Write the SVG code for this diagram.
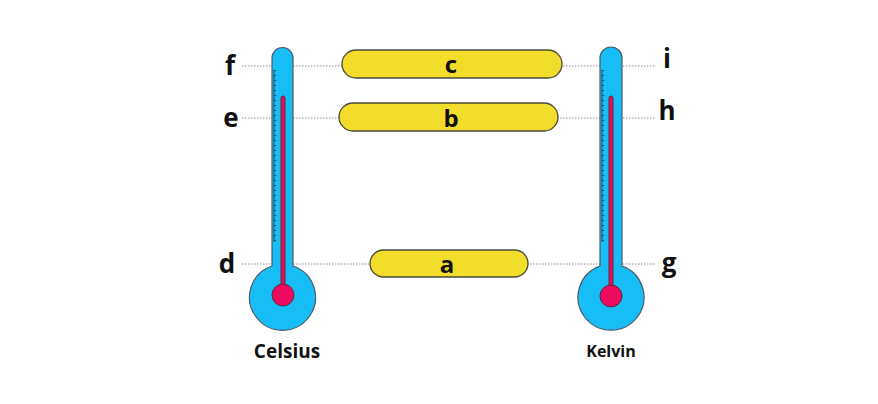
<svg xmlns="http://www.w3.org/2000/svg" width="878" height="404" viewBox="0 0 878 404">
<defs>
<style>
.tube{fill:#17bdf6;stroke:#4a5a66;stroke-width:1.2}
.red{fill:#ee0a5f;stroke:#55303a;stroke-width:1}
.pill{fill:#f2dd2a;stroke:#4a4a3a;stroke-width:1.3}
.dot{stroke:#888;stroke-width:1;stroke-dasharray:1.5 1.5}
.lbl{font-family:"Open Sans","DejaVu Sans",sans-serif;font-weight:bold;fill:#111}
.tick{stroke:#2a4a5a;stroke-width:1}
</style>
<pattern id="ticks" width="8" height="5" patternUnits="userSpaceOnUse"><line x1="0" y1="0.5" x2="4" y2="0.5" class="tick"/></pattern>
</defs>
<rect width="878" height="404" fill="#fff"/>
<g id="connectors">
<line class="dot" x1="242" y1="66" x2="656" y2="66"/>
<line class="dot" x1="242" y1="118" x2="656" y2="118"/>
<line class="dot" x1="242" y1="264" x2="656" y2="264"/>
</g>
<g id="celsius">
<path class="tube" d="M272,266 V58 A10.5,10.5 0 0 1 293,58 V266 A33,33 0 1 1 272,266 Z"/>
<rect x="274" y="70" width="4" height="172" fill="url(#ticks)"/>
<line x1="274" y1="70" x2="274" y2="242" class="tick"/>
<rect class="red" x="281" y="96" width="4" height="200" rx="2"/>
<circle class="red" cx="283" cy="295" r="11"/>
<text class="lbl" x="287" y="358" font-size="19" text-anchor="middle">Celsius</text>
</g>
<g id="kelvin">
<path class="tube" d="M600,266 V58 A11,11 0 0 1 622,58 V266 A33,33 0 1 1 600,266 Z"/>
<rect x="602" y="70" width="4" height="172" fill="url(#ticks)"/>
<line x1="602" y1="70" x2="602" y2="242" class="tick"/>
<rect class="red" x="609" y="96" width="4" height="200" rx="2"/>
<circle class="red" cx="611" cy="296" r="11"/>
<text class="lbl" x="611" y="357" font-size="16" text-anchor="middle">Kelvin</text>
</g>
<g id="c"><rect class="pill" x="342" y="50" width="220" height="28" rx="14"/><text class="lbl" x="451" y="73" font-size="24" text-anchor="middle">c</text></g>
<g id="b"><rect class="pill" x="339" y="103" width="219" height="28" rx="14"/><text class="lbl" x="451" y="127" font-size="24" text-anchor="middle">b</text></g>
<g id="a"><rect class="pill" x="370" y="250" width="158" height="27" rx="13.5"/><text class="lbl" x="447" y="273" font-size="24" text-anchor="middle">a</text></g>
<g id="labels" class="lbl" font-size="26">
<text x="230" y="75" text-anchor="middle">f</text>
<text x="231" y="127" text-anchor="middle">e</text>
<text x="227" y="273" text-anchor="middle">d</text>
<text x="667" y="68" text-anchor="middle">i</text>
<text x="667" y="120" text-anchor="middle">h</text>
<text x="669" y="272" text-anchor="middle">g</text>
</g>
</svg>
